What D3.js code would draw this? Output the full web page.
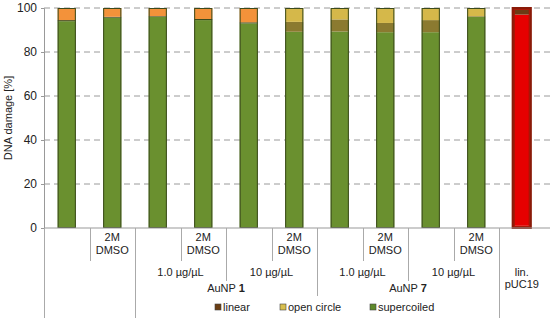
<!DOCTYPE html>
<html>
<head>
<meta charset="utf-8">
<script src="https://cdn.jsdelivr.net/npm/d3@7"></script>
<style>
  body { margin: 0; background: #fff; }
  text { font-family: "Liberation Sans", Arial, sans-serif; fill: #222; }
</style>
</head>
<body>
<svg width="550" height="322"></svg>
<script>
// bar data (percent of DNA)
var bars = ["c1", "c2", "a1", "a2", "a3", "a4", "b1", "b2", "b3", "b4", "lin"];
var supercoiled = [94, 95.6, 96, 94.5, 93, 89.2, 89.3, 89, 89, 96, 1];
var linear      = [0.5, 0.4, 0.3, 0.5, 0.5, 4.5, 5.5, 4.2, 5.5, 0.3, 96];
var openCircle  = [5.5, 4, 3.7, 5, 6.5, 6.3, 5.2, 6.8, 5.5, 3.7, 3];

// axis labels
var yTicks = [0, 20, 40, 60, 80, 100];
var dmsoLabels = ["", "2M\nDMSO", "", "2M\nDMSO", "", "2M\nDMSO", "", "2M\nDMSO", "", "2M\nDMSO", ""];
var concLabels = [["", 0, 1], ["1.0 µg/µL", 2, 3], ["10 µg/µL", 4, 5], ["1.0 µg/µL", 6, 7], ["10 µg/µL", 8, 9], ["lin.\npUC19", 10, 10]];
var groupLabels = [["AuNP ", "1", 2, 5], ["AuNP ", "7", 6, 9]];
// separator level after each bar (index -1 = left edge)
var sepLevel = [4, 1, 4, 1, 2, 1, 3, 1, 2, 1, 4];

var svg = d3.select("svg"),
    width = +svg.attr("width"),
    height = +svg.attr("height");

var x = d3.scaleBand()
    .domain(bars)
    .range([44, 44 + 11 * 45.5])
    .paddingInner(0.6)
    .paddingOuter(0.3);

var y = d3.scaleLinear()
    .domain([0, 100])
    .range([228, 8]);

// grid
svg.append("g")
  .selectAll("line")
  .data(yTicks.filter(function(d){ return d > 0; }))
  .enter().append("line")
    .attr("x1", 44).attr("x2", width)
    .attr("y1", function(d){ return y(d); })
    .attr("y2", function(d){ return y(d); })
    .style("stroke", "#9a9a9a")
    .style("stroke-dasharray", "6,4")
    .style("stroke-width", 1);

// y axis
var yAxis = svg.append("g")
    .attr("transform", "translate(44,0)")
    .call(d3.axisLeft(y).tickValues(yTicks).tickSize(3).tickPadding(4));
yAxis.select(".domain").style("stroke", "#999");
yAxis.selectAll(".tick line").style("stroke", "#999");
yAxis.selectAll("text").style("font-size", "12px").style("font-family", "Liberation Sans, Arial, sans-serif").attr("fill", "#222");

svg.append("text")
    .attr("transform", "translate(12," + y(50) + ") rotate(-90)")
    .attr("text-anchor", "middle")
    .style("font-size", "11px")
    .text("DNA damage [%]");

// stacked bars
var colSuper = "#6a902f", colLin = "#8b7a30", colOc = "#d5b84a", colOrange = "#f3923a";
var stack = bars.map(function(b, i) {
  var s = supercoiled[i], l = linear[i], o = openCircle[i];
  return [
    {b: b, i: i, key: "sc", y0: 0, y1: s},
    {b: b, i: i, key: "lin", y0: s, y1: s + l},
    {b: b, i: i, key: "oc", y0: s + l, y1: s + l + o}
  ];
});

function fillOf(d) {
  if (d.b === "lin") {
    if (d.key === "lin") return "#e60000";
    return "#6b3a14";
  }
  if (d.key === "sc") return colSuper;
  if (d.key === "lin") return d.i < 5 ? "#3f4a1c" : colLin;
  return d.i < 5 ? colOrange : colOc;
}

svg.append("g")
  .selectAll("g")
  .data(stack)
  .enter().append("g")
  .selectAll("rect")
  .data(function(d){ return d; })
  .enter().append("rect")
    .attr("x", function(d){ return x(d.b); })
    .attr("width", x.bandwidth())
    .attr("y", function(d){ return y(d.y1); })
    .attr("height", function(d){ return y(d.y0) - y(d.y1); })
    .attr("fill", fillOf);

// bar outlines
svg.append("g")
  .selectAll("rect")
  .data(bars)
  .enter().append("rect")
    .attr("x", function(d){ return x(d) + 0.5; })
    .attr("y", y(100) + 0.5)
    .attr("width", x.bandwidth() - 1)
    .attr("height", y(0) - y(100) - 1)
    .attr("fill", "none")
    .style("stroke", function(d){ return d === "lin" ? "#8a1a08" : "#3b4a1c"; })
    .style("stroke-width", function(d){ return d === "lin" ? 3 : 1; });

// lin. bar inner stroke adjustment
svg.append("rect")
    .attr("x", x("lin") + 1.5)
    .attr("y", y(100) + 1.5)
    .attr("width", x.bandwidth() - 3)
    .attr("height", y(0) - y(100) - 3)
    .attr("fill", "none")
    .style("stroke", "#a81a08")
    .style("stroke-width", 1);

// bottom axis line
svg.append("line")
    .attr("x1", 44).attr("x2", width)
    .attr("y1", y(0)).attr("y2", y(0))
    .style("stroke", "#999");

// separators
var step = x.step();
var sepBottom = {1: 261, 2: 281, 3: 296, 4: 318};
svg.append("g")
  .selectAll("line")
  .data(sepLevel)
  .enter().append("line")
    .attr("x1", function(d, i){ return Math.round(44 + i * step) + 0.5; })
    .attr("x2", function(d, i){ return Math.round(44 + i * step) + 0.5; })
    .attr("y1", y(0))
    .attr("y2", function(d){ return sepBottom[d]; })
    .style("stroke", "#aaa");

// DMSO labels
var dm = svg.append("g")
  .selectAll("text")
  .data(dmsoLabels)
  .enter().append("text")
    .attr("text-anchor", "middle")
    .style("font-size", "11px");
dm.each(function(d, i) {
  var lines = d ? d.split("\n") : [];
  var t = d3.select(this);
  lines.forEach(function(l, k) {
    t.append("tspan")
      .attr("x", x(bars[i]) + x.bandwidth() / 2)
      .attr("y", 241 + k * 13)
      .text(l);
  });
});

// concentration labels
svg.append("g")
  .selectAll("text")
  .data(concLabels)
  .enter().append("text")
    .attr("text-anchor", "middle")
    .style("font-size", "11px")
    .each(function(d) {
      var cx = (x(bars[d[1]]) + x(bars[d[2]]) + x.bandwidth()) / 2;
      var lines = d[0] ? d[0].split("\n") : [];
      var t = d3.select(this);
      lines.forEach(function(l, k) {
        t.append("tspan").attr("x", cx).attr("y", 276 + k * 12).text(l);
      });
    });

// group labels
svg.append("g")
  .selectAll("text")
  .data(groupLabels)
  .enter().append("text")
    .attr("text-anchor", "middle")
    .attr("x", function(d){ return (x(bars[d[2]]) + x(bars[d[3]]) + x.bandwidth()) / 2; })
    .attr("y", 292)
    .style("font-size", "11px")
    .each(function(d) {
      var t = d3.select(this);
      t.append("tspan").text(d[0]);
      t.append("tspan").style("font-weight", "bold").text(d[1]);
    });

// legend
var legendNames = ["linear", "open circle", "supercoiled"];
var legendColors = ["#6b3e13", "#d8bf4e", "#5f8a2a"];
var legendX = [215, 280, 370];
var lg = svg.append("g")
  .selectAll("g")
  .data(legendNames)
  .enter().append("g")
    .attr("transform", function(d, i){ return "translate(" + legendX[i] + ",303)"; });
lg.append("rect")
    .attr("width", 6).attr("height", 6)
    .attr("y", 1)
    .attr("fill", function(d, i){ return legendColors[i]; })
    .style("stroke", "#444").style("stroke-width", 0.6);
lg.append("text")
    .attr("x", 8).attr("y", 8)
    .style("font-size", "11px")
    .text(function(d){ return d; });
</script>
</body>
</html>
